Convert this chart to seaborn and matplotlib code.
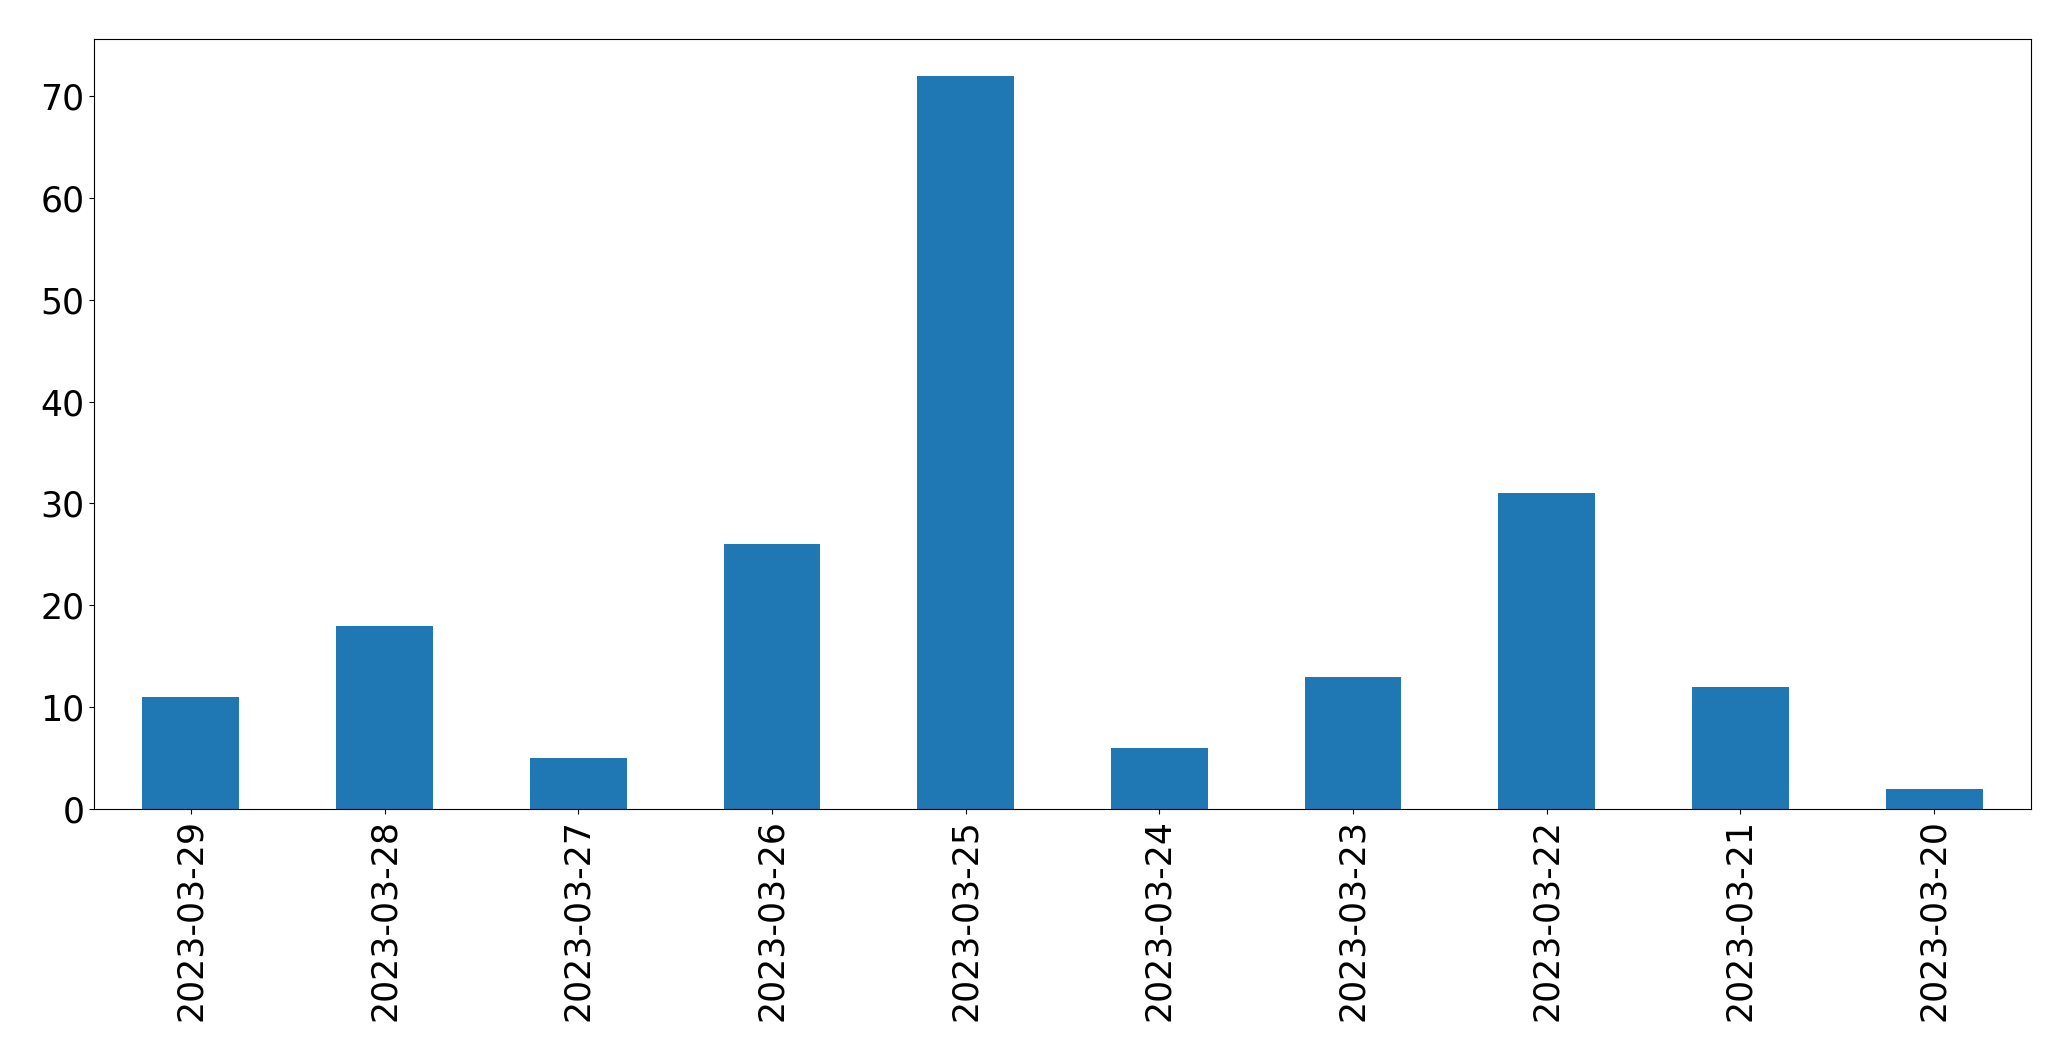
import pandas as pd
import numpy as np
import seaborn as sns
import matplotlib.pyplot as plt

# daily counts, newest first (as in the original plot)
dates = ['2023-03-29', '2023-03-28', '2023-03-27', '2023-03-26', '2023-03-25',
         '2023-03-24', '2023-03-23', '2023-03-22', '2023-03-21', '2023-03-20']
counts = [11, 18, 5, 26, 72, 6, 13, 31, 12, 2]

df = pd.DataFrame({'date': dates, 'count': counts})

fig = plt.figure(figsize=(20.71, 10.61), dpi=100)
ax = fig.add_axes([94 / 2071, 1 - 809 / 1061, (2031 - 94) / 2071, (809 - 39) / 1061])

sns.barplot(data=df, x='date', y='count', order=dates, color='#1f77b4',
            saturation=1, width=0.5, linewidth=0, ax=ax)

ax.set_xlim(-0.5, len(dates) - 0.5)
ax.set_ylim(0, max(counts) * 1.05)
ax.set_xlabel('')
ax.set_ylabel('')
ax.tick_params(axis='both', labelsize=25)
ax.tick_params(axis='x', labelrotation=90)

plt.savefig('out.png', dpi=100)
